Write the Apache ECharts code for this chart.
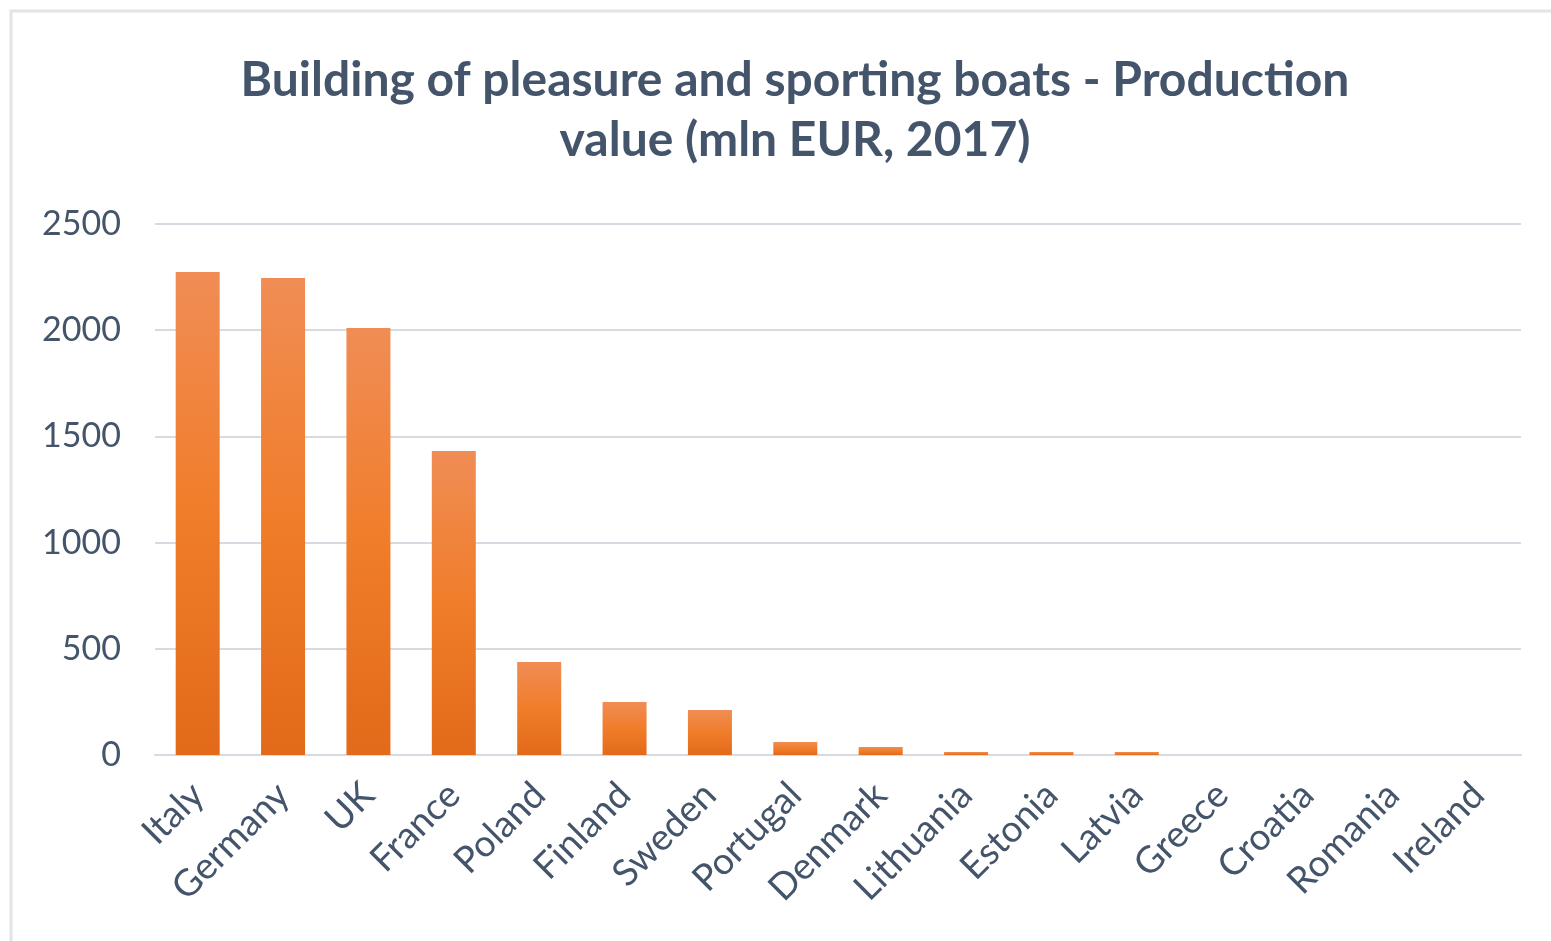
<!DOCTYPE html>
<html><head><meta charset="utf-8">
<script src="https://cdn.jsdelivr.net/npm/echarts@6/dist/echarts.min.js"></script>
<style>html,body{margin:0;padding:0;background:#fff;}#c{width:1551px;height:941px;}</style>
</head><body><div id="c"></div>
<script>
const categories = ["Italy","Germany","UK","France","Poland","Finland","Sweden","Portugal","Denmark","Lithuania","Estonia","Latvia","Greece","Croatia","Romania","Ireland"];
const values = [2274, 2246, 2010, 1431, 438, 250, 212, 61, 38, 14, 14, 14, 0, 0, 0, 0];
const titleText = "Building of pleasure and sporting boats - Production\nvalue (mln EUR, 2017)";

const chart = echarts.init(document.getElementById('c'));
chart.setOption({
  backgroundColor: '#fff',
  animation: false,
  graphic: [{type:'rect', shape:{x:11, y:11, width:1600, height:1000}, style:{fill:'none', stroke:'#E3E3EA', lineWidth:3}}],
  title: {
    text: titleText, left: 790, top: 46, textAlign: 'center',
    textStyle: {fontFamily: 'Lato', fontWeight: 'bold', fontSize: 48, color: '#44546A', lineHeight: 60}
  },
  grid: {left: 155, right: 30, top: 224, bottom: 186, containLabel: false},
  xAxis: {
    type: 'category', data: categories,
    axisLine: {lineStyle: {color: '#D9D9E1', width: 2}},
    axisTick: {show: false},
    axisLabel: {rotate: 45, interval: 0, fontFamily: 'Lato', fontSize: 37, color: '#44546A', margin: 34}
  },
  yAxis: {
    type: 'value', min: 0, max: 2500, interval: 500,
    axisLine: {show: false}, axisTick: {show: false},
    splitLine: {lineStyle: {color: '#D9D9E1', width: 2}},
    axisLabel: {fontFamily: 'Lato', fontSize: 34, color: '#44546A', margin: 34, formatter: v => String(v)}
  },
  series: [{
    type: 'bar', data: values, barWidth: 44,
    itemStyle: {color: new echarts.graphic.LinearGradient(0,0,0,1,[
      {offset:0, color:'#F08D55'},{offset:0.5, color:'#F07D2A'},{offset:1, color:'#E26A1A'}])}
  }]
});
</script></body></html>
